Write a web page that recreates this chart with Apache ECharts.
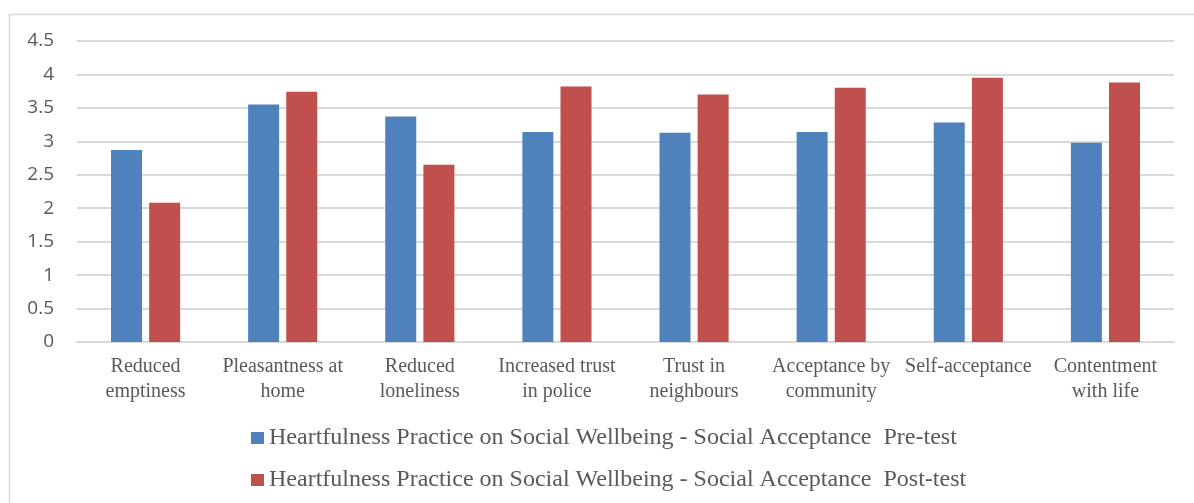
<!DOCTYPE html>
<html>
<head>
<meta charset="utf-8">
<script src="https://cdn.jsdelivr.net/npm/echarts@6/dist/echarts.min.js"></script>
<style>
  html, body { margin: 0; padding: 0; background: #ffffff; }
  #chart { width: 1194px; height: 503px; }
</style>
</head>
<body>
<div id="chart"></div>
<script>
// Category labels (two-line where the label wraps)
const categories = [
  'Reduced\nemptiness',
  'Pleasantness at\nhome',
  'Reduced\nloneliness',
  'Increased trust\nin police',
  'Trust in\nneighbours',
  'Acceptance by\ncommunity',
  'Self-acceptance',
  'Contentment\nwith life'
];

// Mean scores
const preTest  = [2.87, 3.55, 3.37, 3.14, 3.13, 3.14, 3.28, 2.98];
const postTest = [2.08, 3.74, 2.65, 3.82, 3.70, 3.80, 3.95, 3.88];

const seriesNames = [
  'Heartfulness Practice on Social Wellbeing - Social Acceptance  Pre-test',
  'Heartfulness Practice on Social Wellbeing - Social Acceptance  Post-test'
];

const chart = echarts.init(document.getElementById('chart'));

chart.setOption({
  animation: false,
  backgroundColor: '#ffffff',
  graphic: [{
    type: 'rect',
    left: 7, top: 12,
    shape: { width: 1200, height: 520 },
    style: { fill: 'none', stroke: '#d9d9d9', lineWidth: 1.5 },
    silent: true
  }],
  grid: { left: 77, right: 20, top: 41, bottom: 161 },
  legend: {
    orient: 'vertical',
    left: 251,
    top: 426,
    padding: 0,
    itemWidth: 13,
    itemHeight: 12,
    itemGap: 18,
    icon: 'rect',
    textStyle: { fontFamily: 'Liberation Serif', fontSize: 24, lineHeight: 24, color: '#595959' },
    data: seriesNames
  },
  xAxis: {
    type: 'category',
    data: categories,
    axisLine: { lineStyle: { color: '#d9d9d9', width: 2 } },
    axisTick: { show: false },
    axisLabel: {
      fontFamily: 'Liberation Serif',
      fontSize: 20,
      color: '#595959',
      lineHeight: 25,
      margin: 12,
      interval: 0
    }
  },
  yAxis: {
    type: 'value',
    min: 0, max: 4.5, interval: 0.5,
    axisLine: { show: false },
    axisTick: { show: false },
    splitLine: { lineStyle: { color: '#d9d9d9', width: 2 } },
    axisLabel: {
      fontFamily: 'Open Sans',
      fontSize: 19,
      color: '#595959',
      margin: 23
    }
  },
  series: [
    {
      name: seriesNames[0],
      type: 'bar',
      data: preTest,
      barWidth: 31,
      barGap: '23%',
      itemStyle: { color: '#4f81bd' }
    },
    {
      name: seriesNames[1],
      type: 'bar',
      data: postTest,
      barWidth: 31,
      barGap: '23%',
      itemStyle: { color: '#c0504d' }
    }
  ]
});
</script>
</body>
</html>
